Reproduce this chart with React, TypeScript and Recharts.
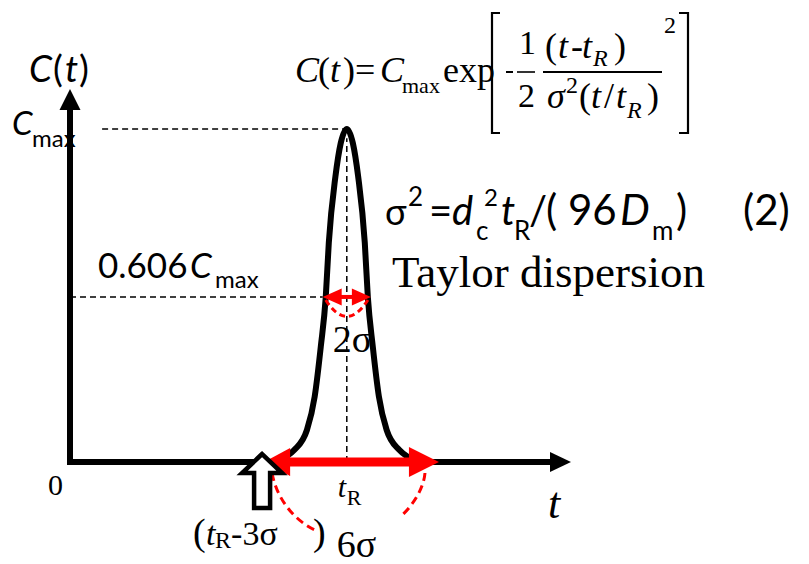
import React from 'react';
import {
  ComposedChart,
  Line,
  XAxis,
  YAxis,
  ReferenceLine,
  ReferenceDot,
  Customized,
} from 'recharts';

// Peak profile: time in arbitrary units (t_R = 10), concentration as a fraction of Cmax
const CURVE_T = [7.51, 7.74, 8.1, 8.56, 8.84, 9.06, 9.24, 9.35, 9.59, 9.78, 10, 10.22, 10.41, 10.65, 10.76, 10.94, 11.16, 11.44, 11.9, 12.26, 12.49];
const CURVE_C = [0, 0.043, 0.093, 0.188, 0.313, 0.469, 0.606, 0.742, 0.896, 0.969, 1, 0.969, 0.896, 0.742, 0.606, 0.469, 0.313, 0.188, 0.093, 0.043, 0];

const T_R = 10;
const T_AXIS_END = 18.1;
const SIX_SIGMA = [6.94, 13.33]; // (tR - 3σ) .. (tR + 3σ)
const TWO_SIGMA = [9.13, 10.87];
const LEVEL_MAX = 1;
const LEVEL_INFLECTION = 0.606;
const C_AXIS_TOP = 1.084;
const CMAX_GUIDE_START = 1.16;

// the sketch's concentration axis is stretched, not linear
const C_AXIS_EXPONENT = 1.402;

const data = CURVE_T.map((t, i) => ({ t, c: CURVE_C[i] }));

const SANS = 'Lato, "Open Sans", sans-serif';
const SERIF = '"Liberation Serif", "Times New Roman", serif';
const RED = '#ff0000';

function powerScale(exponent: number) {
  let dom: number[] = [0, 1];
  let rng: number[] = [0, 1];
  const scale: any = (v: number) => {
    const u = (Number(v) - dom[0]) / (dom[1] - dom[0]);
    const f = Math.sign(u) * Math.pow(Math.abs(u), exponent);
    return rng[0] + f * (rng[1] - rng[0]);
  };
  scale.domain = (d?: any[]) => {
    if (d === undefined) return dom.slice();
    dom = d.map(Number);
    return scale;
  };
  scale.range = (r?: any[]) => {
    if (r === undefined) return rng.slice();
    rng = r.map(Number);
    return scale;
  };
  scale.invert = (p: number) => {
    const f = (p - rng[0]) / (rng[1] - rng[0]);
    const u = Math.sign(f) * Math.pow(Math.abs(f), 1 / exponent);
    return dom[0] + u * (dom[1] - dom[0]);
  };
  scale.ticks = (count = 5) => {
    const n = Math.max(1, count);
    return Array.from({ length: n + 1 }, (_, i) => dom[0] + ((dom[1] - dom[0]) * i) / n);
  };
  scale.tickFormat = () => (v: any) => String(v);
  scale.nice = () => scale;
  scale.clamp = () => scale;
  scale.copy = () => powerScale(exponent).domain(dom).range(rng);
  return scale;
}

const cScale = powerScale(C_AXIS_EXPONENT);

// ---- shapes -------------------------------------------------------------

const xAxisArrow = (p: any) => (
  <g>
    <line x1={p.x1 - 3} y1={p.y1} x2={p.x2 - 18} y2={p.y2} stroke="#000" strokeWidth={6} />
    <polygon points={`${p.x2},${p.y2} ${p.x2 - 21},${p.y2 - 10} ${p.x2 - 21},${p.y2 + 10}`} fill="#000" />
  </g>
);

const yAxisArrow = (p: any) => (
  <g>
    <line x1={p.x1} y1={p.y1 + 3} x2={p.x2} y2={p.y2 + 18} stroke="#000" strokeWidth={6} />
    <polygon points={`${p.x2},${p.y2} ${p.x2 - 10.5},${p.y2 + 21} ${p.x2 + 10.5},${p.y2 + 21}`} fill="#000" />
  </g>
);

const dashedGuide = (p: any) => (
  <line x1={p.x1} y1={p.y1} x2={p.x2} y2={p.y2} stroke="#000" strokeWidth={1.5} strokeDasharray="6 4" />
);

const wideArrow = (p: any) => {
  const { x1, x2, y1: y } = p;
  return (
    <g fill={RED}>
      <rect x={x1 + 24} y={y - 4.5} width={x2 - x1 - 50} height={9} />
      <polygon points={`${x1 + 2},${y} ${x1 + 28},${y - 14} ${x1 + 28},${y + 14}`} />
      <polygon points={`${x2},${y} ${x2 - 30},${y - 15} ${x2 - 30},${y + 15}`} />
    </g>
  );
};

const narrowArrow = (p: any) => {
  const { x1, x2, y1: y } = p;
  return (
    <g fill={RED}>
      <rect x={x1 + 15} y={y - 2} width={x2 - x1 - 30} height={4} />
      <polygon points={`${x1},${y} ${x1 + 19},${y - 8.5} ${x1 + 19},${y + 8.5}`} />
      <polygon points={`${x2},${y} ${x2 - 19},${y - 8.5} ${x2 - 19},${y + 8.5}`} />
    </g>
  );
};

const twoSigmaArc = (p: any) => {
  const { x1, x2, y1: y } = p;
  return (
    <path
      d={`M${x1 + 3},${y + 3} Q${(x1 + x2) / 2},${y + 36} ${x2 - 3},${y + 3}`}
      fill="none" stroke={RED} strokeWidth={3} strokeDasharray="6 4"
    />
  );
};

const sixSigmaArcs = (p: any) => {
  const { x1, x2, y1: y } = p;
  return (
    <g fill="none" stroke={RED} strokeWidth={3} strokeDasharray="8 5">
      <path d={`M${x1 + 10},${y + 11} C${x1 + 14},${y + 35} ${x1 + 31},${y + 58} ${x1 + 53},${y + 68}`} />
      <path d={`M${x2 - 14},${y + 11} C${x2 - 15},${y + 25} ${x2 - 25},${y + 43} ${x2 - 39},${y + 55}`} />
    </g>
  );
};

const hollowArrow = (p: any) => {
  const { cx, cy } = p;
  const pts = [
    [cx, cy - 8],
    [cx - 20, cy + 11],
    [cx - 8, cy + 11],
    [cx - 8, cy + 46],
    [cx + 8, cy + 46],
    [cx + 8, cy + 11],
    [cx + 20, cy + 11],
  ].map((q) => q.join(',')).join(' ');
  return <polygon points={pts} fill="#fff" stroke="#000" strokeWidth={4.5} strokeLinejoin="miter" />;
};

type Piece = { s: string; dx: number; dy: number; size: number; italic?: boolean; serif?: boolean };

const textShape = (pieces: Piece[]) => (p: any) => (
  <g>
    {pieces.map((q, i) => (
      <text
        key={i}
        x={p.cx + q.dx}
        y={p.cy + q.dy}
        fontSize={q.size}
        fontStyle={q.italic ? 'italic' : 'normal'}
        fontFamily={q.serif ? SERIF : SANS}
        fill="#000"
      >
        {q.s}
      </text>
    ))}
  </g>
);

// ---- equation block -----------------------------------------------------

function Equations() {
  const serif = (x: number, y: number, s: string, size: number, italic = false) => (
    <text x={x} y={y} fontSize={size} fontFamily={SERIF} fontStyle={italic ? 'italic' : 'normal'}>{s}</text>
  );
  const sans = (x: number, y: number, s: string, size: number, italic = false) => (
    <text x={x} y={y} fontSize={size} fontFamily={SANS} fontStyle={italic ? 'italic' : 'normal'}>{s}</text>
  );
  return (
    <g fill="#000">
      {serif(295, 82, 'C', 36, true)}
      {serif(318, 82, '(', 36)}
      {serif(330, 82, 't', 36, true)}
      {serif(343, 82, ')', 36)}
      {serif(355, 82, '=', 36)}
      {serif(380, 82, 'C', 36, true)}
      {serif(402, 93, 'max', 22)}
      {serif(443, 82, 'exp', 36)}
      <path d="M500,13 H492 V133 H500" fill="none" stroke="#000" strokeWidth={2.2} />
      <line x1={506} y1={72} x2={513} y2={72} stroke="#000" strokeWidth={2} />
      {serif(519, 54, '1', 34)}
      <line x1={517} y1={72} x2={535} y2={72} stroke="#000" strokeWidth={1.6} />
      {serif(518, 107, '2', 34)}
      {serif(545, 58, '(', 36)}
      {serif(558, 58, 't', 36, true)}
      {serif(571, 58, '-', 36)}
      {serif(582, 58, 't', 36, true)}
      {serif(593, 66, 'R', 24, true)}
      {serif(614, 58, ')', 36)}
      <line x1={543} y1={72} x2={662} y2={72} stroke="#000" strokeWidth={1.8} />
      {serif(547, 108, 'σ', 36, true)}
      {serif(566, 93, '2', 24)}
      {serif(579, 108, '(', 36)}
      {serif(591, 108, 't', 36, true)}
      {serif(604, 108, '/', 36)}
      {serif(616, 108, 't', 36, true)}
      {serif(627, 118, 'R', 24, true)}
      {serif(647, 108, ')', 36)}
      {serif(664, 33, '2', 24)}
      <path d="M679,13 H688 V133 H679" fill="none" stroke="#000" strokeWidth={2.2} />

      {sans(385, 225, 'σ', 36)}
      {sans(408, 206, '2', 26)}
      {sans(429, 225, '=', 40)}
      {sans(452, 225, 'd', 40, true)}
      {sans(476, 240, 'c', 26)}
      {sans(484, 206, '2', 24)}
      {sans(501, 225, 't', 40, true)}
      {sans(514, 240, 'R', 26)}
      {sans(529, 225, '/', 40)}
      {sans(546, 225, '(', 42)}
      {sans(568, 225, '96', 42)}
      {sans(620, 225, 'D', 42, true)}
      {sans(652, 240, 'm', 26)}
      {sans(676, 225, ')', 42)}
      {sans(743, 225, '(2)', 42)}

      {serif(392, 287, 'Taylor dispersion', 45)}
    </g>
  );
}

export default function App() {
  return (
    <div style={{ position: 'absolute', left: 0, top: 0, background: '#fff' }}>
      <ComposedChart
        width={809}
        height={564}
        data={data}
        margin={{ top: 89, right: 238, bottom: 102, left: 70 }}
      >
        <XAxis dataKey="t" type="number" domain={[0, T_AXIS_END]} allowDataOverflow hide />
        <YAxis type="number" domain={[0, C_AXIS_TOP]} allowDataOverflow scale={cScale} hide />

        {/* guides */}
        <ReferenceLine segment={[{ x: CMAX_GUIDE_START, y: LEVEL_MAX }, { x: T_R, y: LEVEL_MAX }]} ifOverflow="visible" shape={dashedGuide} />
        <ReferenceLine segment={[{ x: 0, y: LEVEL_INFLECTION }, { x: TWO_SIGMA[0], y: LEVEL_INFLECTION }]} ifOverflow="visible" shape={dashedGuide} />
        <ReferenceLine segment={[{ x: T_R, y: 0 }, { x: T_R, y: 0.98 }]} ifOverflow="visible" shape={dashedGuide} />

        {/* axes */}
        <ReferenceLine segment={[{ x: 0, y: 0 }, { x: 0, y: C_AXIS_TOP }]} ifOverflow="visible" shape={yAxisArrow} />
        <ReferenceLine segment={[{ x: 0, y: 0 }, { x: T_AXIS_END, y: 0 }]} ifOverflow="visible" shape={xAxisArrow} />

        <Line
          dataKey="c"
          type="monotone"
          stroke="#000"
          strokeWidth={6}
          dot={false}
          activeDot={false}
          isAnimationActive={false}
        />

        <ReferenceDot x={SIX_SIGMA[0]} y={0} r={0} ifOverflow="visible" shape={hollowArrow} />
        <ReferenceLine segment={[{ x: SIX_SIGMA[0], y: 0 }, { x: SIX_SIGMA[1], y: 0 }]} ifOverflow="visible" shape={wideArrow} />
        <ReferenceLine segment={[{ x: SIX_SIGMA[0], y: 0 }, { x: SIX_SIGMA[1], y: 0 }]} ifOverflow="visible" shape={sixSigmaArcs} />
        <ReferenceLine segment={[{ x: TWO_SIGMA[0], y: LEVEL_INFLECTION }, { x: TWO_SIGMA[1], y: LEVEL_INFLECTION }]} ifOverflow="visible" shape={narrowArrow} />
        <ReferenceLine segment={[{ x: TWO_SIGMA[0], y: LEVEL_INFLECTION }, { x: TWO_SIGMA[1], y: LEVEL_INFLECTION }]} ifOverflow="visible" shape={twoSigmaArc} />

        {/* labels */}
        <ReferenceDot x={0} y={C_AXIS_TOP} r={0} ifOverflow="visible" shape={textShape([
          { s: 'C', dx: -41, dy: -7, size: 37, italic: true },
          { s: '(', dx: -17, dy: -7, size: 37 },
          { s: 't', dx: -5, dy: -7, size: 37, italic: true },
          { s: ')', dx: 9, dy: -7, size: 37 },
        ])} />
        <ReferenceDot x={0} y={LEVEL_MAX} r={0} ifOverflow="visible" shape={textShape([
          { s: 'C', dx: -58, dy: 6, size: 33, italic: true },
          { s: 'max', dx: -38, dy: 18, size: 24 },
        ])} />
        <ReferenceDot x={0} y={LEVEL_INFLECTION} r={0} ifOverflow="visible" shape={textShape([
          { s: '0.606', dx: 28, dy: -19, size: 35 },
          { s: 'C', dx: 120, dy: -19, size: 35, italic: true },
          { s: 'max', dx: 145, dy: -9, size: 24 },
        ])} />
        <ReferenceDot x={0} y={0} r={0} ifOverflow="visible" shape={textShape([
          { s: '0', dx: -22, dy: 33, size: 30, serif: true },
        ])} />
        <ReferenceDot x={T_R} y={0} r={0} ifOverflow="visible" shape={textShape([
          { s: 't', dx: -9, dy: 35, size: 30, italic: true, serif: true },
          { s: 'R', dx: 0, dy: 43, size: 22, serif: true },
          { s: '6σ', dx: -10, dy: 95, size: 38, serif: true },
        ])} />
        <ReferenceDot x={T_AXIS_END} y={0} r={0} ifOverflow="visible" shape={textShape([
          { s: 't', dx: -23, dy: 56, size: 44, italic: true, serif: true },
        ])} />
        <ReferenceDot x={SIX_SIGMA[0]} y={0} r={0} ifOverflow="visible" shape={textShape([
          { s: '(', dx: -69, dy: 83, size: 38, serif: true },
          { s: 't', dx: -56, dy: 83, size: 34, italic: true, serif: true },
          { s: 'R', dx: -47, dy: 86, size: 24, serif: true },
          { s: '-3σ', dx: -31, dy: 83, size: 34, serif: true },
          { s: ')', dx: 51, dy: 83, size: 38, serif: true },
        ])} />
        <ReferenceDot x={T_R} y={LEVEL_INFLECTION} r={0} ifOverflow="visible" shape={textShape([
          { s: '2σ', dx: -14, dy: 55, size: 38, serif: true },
        ])} />

        <Customized component={Equations} />
      </ComposedChart>
    </div>
  );
}
